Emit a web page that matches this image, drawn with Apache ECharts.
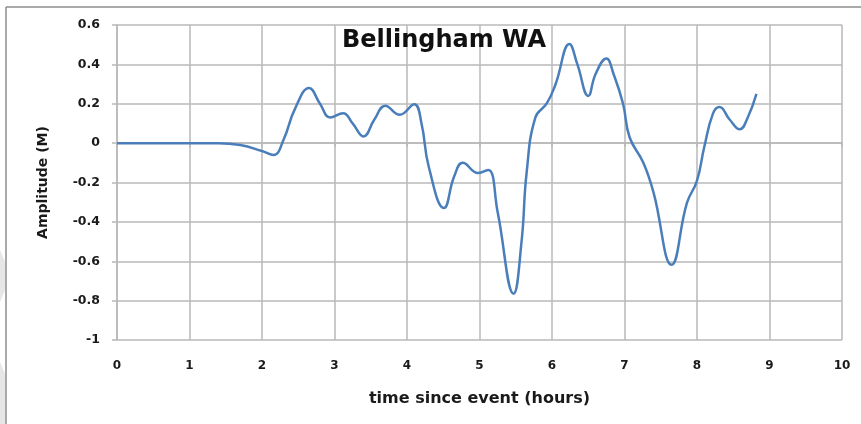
<!DOCTYPE html>
<html>
<head>
<meta charset="utf-8">
<script src="https://cdn.jsdelivr.net/npm/echarts@6/dist/echarts.min.js"></script>
<style>
  html, body { margin: 0; padding: 0; background: #fff; }
  #chart { width: 861px; height: 424px; }
</style>
</head>
<body>
<div id="chart"></div>
<script>
// time since event (hours) and amplitude (M)
const hours = [0, 0.5, 1, 1.4, 1.7, 2.0, 2.16, 2.3, 2.45, 2.65, 2.8, 2.94, 3.12, 3.25, 3.4, 3.55, 3.7, 3.9, 4.1, 4.2,
  4.3, 4.51, 4.65, 4.77, 4.98, 5.12, 5.25, 5.47, 5.58, 5.65, 5.77, 5.93, 6.05, 6.24, 6.35, 6.5, 6.6, 6.75, 6.85, 6.98,
  7.07, 7.26, 7.4, 7.65, 7.86, 8.0, 8.1, 8.22, 8.31, 8.45, 8.59, 8.7, 8.82];
const amplitude = [0, 0, 0, 0, -0.01, -0.04, -0.06, 0.02, 0.17, 0.28, 0.2, 0.13, 0.152, 0.1, 0.034, 0.12, 0.19, 0.144, 0.198, 0.1,
  -0.12, -0.33, -0.17, -0.10, -0.152, -0.136, -0.35, -0.765, -0.5, -0.15, 0.13, 0.203, 0.3, 0.503, 0.4, 0.24, 0.35, 0.43, 0.35, 0.2,
  0.03, -0.10, -0.25, -0.618, -0.305, -0.19, -0.02, 0.15, 0.183, 0.12, 0.07, 0.13, 0.25];

const chart = echarts.init(document.getElementById('chart'));
const font = 'DejaVu Sans';
const gridColor = '#b8b8b8';

chart.setOption({
  animation: false,
  backgroundColor: '#fff',
  title: {
    text: 'Bellingham WA',
    left: 439,
    top: 24,
    textAlign: 'center',
    textStyle: { fontFamily: font, fontWeight: 'bold', fontSize: 24, color: '#111' }
  },
  grid: { left: 117, right: 19, top: 25, bottom: 84 },
  xAxis: {
    type: 'value',
    min: 0, max: 10, interval: 1,
    name: 'time since event (hours)',
    nameLocation: 'middle',
    nameGap: 51,
    nameTextStyle: { fontFamily: font, fontWeight: 'bold', fontSize: 16, color: '#1a1a1a' },
    axisLine: { show: true, lineStyle: { color: gridColor, width: 1.5 } },
    axisTick: { show: true, length: 4, lineStyle: { color: gridColor, width: 1.5 } },
    axisLabel: { fontFamily: font, fontWeight: 'bold', fontSize: 12, color: '#1a1a1a', margin: 20 },
    splitLine: { show: true, lineStyle: { color: gridColor, width: 1.5 } }
  },
  yAxis: {
    type: 'value',
    min: -1, max: 0.6, interval: 0.2,
    name: 'Amplitude (M)',
    nameLocation: 'middle',
    nameGap: 67,
    nameTextStyle: { fontFamily: font, fontWeight: 'bold', fontSize: 14, color: '#1a1a1a' },
    axisLine: { show: true, lineStyle: { color: gridColor, width: 1.5 } },
    axisTick: { show: true, length: 5, lineStyle: { color: gridColor, width: 1.5 } },
    axisLabel: {
      fontFamily: font, fontWeight: 'bold', fontSize: 12.5, color: '#1a1a1a', margin: 17,
      formatter: v => String(Math.round(v * 10) / 10)
    },
    splitLine: { show: true, lineStyle: { color: gridColor, width: 1.5 } }
  },
  graphic: [
    { type: 'line', shape: { x1: 6, y1: 7, x2: 861, y2: 7 }, style: { stroke: '#8c8c8c', lineWidth: 1.5 } },
    { type: 'line', shape: { x1: 6, y1: 7, x2: 6, y2: 424 }, style: { stroke: '#8c8c8c', lineWidth: 1.5 } },
    { type: 'polygon', shape: { points: [[0, 250], [5, 262], [5, 290], [0, 302]] }, style: { fill: '#e6e6e6' } },
    { type: 'polygon', shape: { points: [[0, 362], [5, 374], [5, 424], [0, 424]] }, style: { fill: '#e6e6e6' } }
  ],
  series: [{
    type: 'line',
    data: hours.map((h, i) => [h, amplitude[i]]),
    smooth: 0.45,
    showSymbol: false,
    lineStyle: { color: '#4a7ebb', width: 2.5 }
  }]
});
</script>
</body>
</html>
